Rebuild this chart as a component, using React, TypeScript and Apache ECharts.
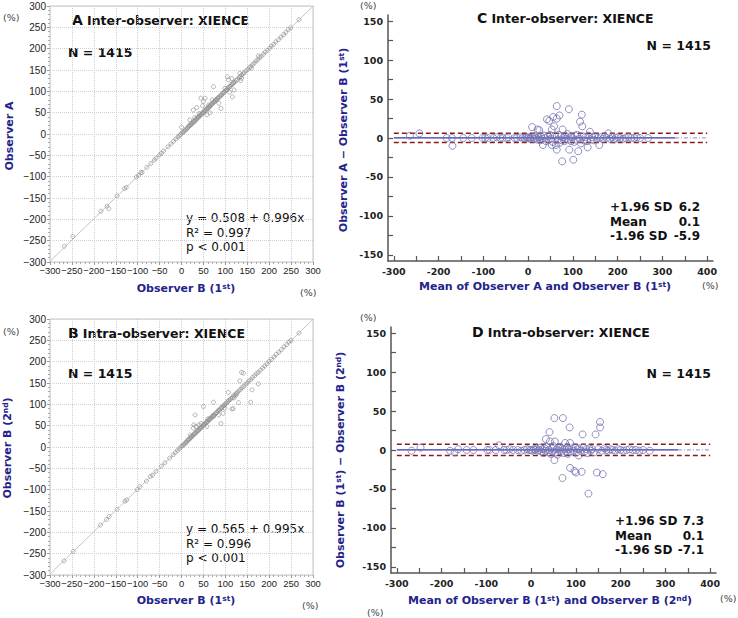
import React, { useEffect, useRef } from 'react';
import * as echarts from 'echarts';

// Panel A: [Observer B (1st), Observer A]
const interObserverPoints: number[][] = [
  [-267, -263], [-248, -240], [-184, -181], [-170, -169], [-166, -175], [-147, -145], [-130, -128], [-126, -125],
  [-103, -101], [-98, -97], [-93, -91], [-90, -90], [-79, -78], [-70, -69], [-62, -61], [-58, -57], [-50, -49],
  [-46, -45], [-41, -40], [-31, -30], [-24, -23], [-18, -17], [-13, -12], [-8, -7], [-5, -4], [-2, -1], [1, 2],
  [3, 4], [6, 6], [8, 9], [10, 10], [12, 13], [14, 14], [16, 17], [17, 19], [19, 20], [21, 21], [22, 25], [24, 24],
  [26, 26], [27, 29], [29, 30], [31, 30], [32, 34], [34, 35], [36, 36], [37, 39], [39, 40], [41, 41], [42, 44],
  [44, 45], [46, 46], [47, 49], [49, 50], [51, 50], [52, 54], [54, 55], [56, 56], [57, 59], [59, 60], [61, 61],
  [62, 64], [64, 64], [66, 66], [67, 69], [69, 70], [71, 71], [72, 74], [74, 75], [76, 76], [77, 79], [79, 80],
  [81, 80], [82, 84], [84, 85], [86, 86], [88, 89], [90, 91], [92, 92], [94, 95], [96, 97], [98, 98], [100, 101],
  [102, 103], [104, 104], [106, 108], [108, 109], [110, 111], [112, 112], [114, 116], [116, 117], [119, 120],
  [122, 122], [125, 126], [128, 128], [131, 132], [134, 134], [137, 138], [140, 141], [143, 143], [147, 148],
  [151, 151], [155, 156], [158, 158], [162, 163], [166, 166], [170, 171], [174, 174], [178, 179], [182, 182],
  [187, 187], [191, 192], [196, 196], [201, 201], [205, 206], [210, 210], [215, 216], [221, 221], [227, 227],
  [233, 233], [238, 238], [244, 245], [249, 249], [268, 268],
  [73, 111], [105, 134], [115, 130], [118, 120], [120, 103], [116, 87], [90, 60], [44, 84], [54, 84], [50, 76],
  [27, 56], [35, 62], [58, 45], [0, 16], [70, 80], [48, 66], [19, 33], [99, 107], [107, 127], [137, 131],
  [160, 154], [175, 183], [135, 125], [85, 72], [62, 68], [40, 48], [30, 38], [110, 98], [133, 142], [65, 50],
];

// Panel B: [Observer B (1st), Observer B (2nd)]
const intraObserverPoints: number[][] = [
  [-268, -267], [-247, -245], [-185, -183], [-171, -170], [-165, -163], [-147, -146], [-129, -127], [-125, -124],
  [-101, -100], [-95, -93], [-80, -80], [-71, -69], [-66, -66], [-58, -57], [-46, -45], [-38, -37], [-27, -26],
  [-19, -18], [-14, -13], [-9, -8], [-5, -4], [-1, 0], [1, 3], [4, 4], [6, 7], [8, 8], [10, 11], [12, 12],
  [14, 15], [15, 17], [17, 18], [19, 19], [21, 22], [22, 24], [24, 25], [26, 26], [28, 29], [29, 31], [31, 32],
  [33, 33], [35, 36], [36, 38], [38, 39], [40, 40], [42, 43], [43, 45], [45, 46], [47, 47], [49, 50], [50, 52],
  [52, 53], [54, 54], [56, 57], [57, 59], [59, 60], [61, 61], [63, 64], [64, 66], [66, 67], [68, 68], [70, 71],
  [71, 73], [73, 74], [75, 75], [77, 78], [79, 80], [81, 81], [83, 84], [85, 86], [87, 87], [89, 90], [91, 92],
  [93, 93], [95, 96], [97, 98], [99, 99], [101, 102], [104, 104], [106, 107], [108, 109], [111, 111], [113, 114],
  [116, 116], [119, 120], [122, 122], [125, 126], [128, 128], [131, 132], [135, 135], [138, 139], [142, 142],
  [146, 147], [150, 150], [154, 155], [158, 158], [162, 163], [167, 167], [171, 172], [175, 175], [180, 180],
  [185, 185], [190, 190], [195, 195], [200, 201], [205, 205], [211, 211], [216, 217], [222, 222], [228, 228],
  [234, 235], [240, 240], [245, 246], [250, 250], [268, 267],
  [137, 175], [141, 173], [133, 155], [175, 148], [161, 134], [158, 105], [107, 128], [130, 104], [73, 105],
  [50, 95], [31, 75], [115, 89], [118, 90], [90, 55], [95, 79], [28, 52], [33, 48], [27, 44], [58, 48], [99, 91],
  [73, 71], [45, 55], [40, 52], [60, 66], [85, 75], [120, 115], [125, 122], [20, 28],
];

// Panel C: [mean of A and B (1st), A - B (1st)]
const interBlandAltman: number[][] = [
  [-264, 3], [-243, 6], [-182, 0], [-170, 0], [-169, -10], [-145, 0], [-126, 0], [-102, 0], [-96, 0], [-90, 0],
  [-78, 0], [-70, 1], [-62, 0], [-57, 0], [-48, 0], [-44, 1], [-30, 0], [-25, 0], [-17, 1], [-12, 0], [-7, 0],
  [-4, 1], [-1, 0], [2, 1], [4, -1], [6, 0], [9, 14], [10, 1], [13, -1], [15, 2], [18, 0], [20, -2], [21, 11],
  [24, 1], [25, 10], [27, -3], [29, 2], [31, -1], [33, -9], [35, 3], [37, 0], [40, -4], [42, 24], [44, 2],
  [46, -2], [47, 22], [49, 4], [51, -1], [53, 11], [53, -9], [55, -5], [56, 27], [58, 15], [60, 3], [62, -9],
  [64, 25], [64, 41], [64, -15], [66, -2], [68, 4], [70, 29], [71, -6], [73, 2], [75, -3], [76, -30], [77, 11],
  [79, 1], [81, -4], [83, 3], [85, -1], [88, 5], [90, -2], [91, 37], [92, -15], [94, 2], [96, -4], [98, 1],
  [101, -28], [103, -5], [105, 3], [107, -2], [110, 4], [112, -17], [114, -1], [116, 21], [118, -7], [120, 30],
  [121, 15], [123, 2], [125, -3], [128, 1], [131, -4], [133, -12], [135, 3], [138, 8], [140, -2], [143, 1],
  [147, -3], [150, 2], [155, 0], [159, -9], [162, 1], [167, -1], [171, 2], [175, 0], [179, 6], [183, -1],
  [187, 1], [192, -2], [196, 0], [201, 1], [206, 0], [212, -1], [218, 0], [224, 1], [230, 0], [237, 0],
  [243, 1], [250, 0], [268, 0],
];

// Panel D: [mean of B (1st) and B (2nd), B (1st) - B (2nd)]
const intraBlandAltman: number[][] = [
  [-267, -1], [-247, 3], [-181, -1], [-171, -3], [-163, 1], [-144, 0], [-129, 0], [-98, 0], [-93, 0], [-79, 0],
  [-72, 6], [-60, 0], [-55, 0], [-48, 1], [-40, 0], [-30, 0], [-22, -1], [-15, 0], [-9, 1], [-4, 0], [0, 0],
  [3, -1], [6, 1], [9, 0], [12, 2], [15, -1], [18, 0], [20, 3], [23, -2], [25, 1], [28, -4], [30, 2], [32, -1],
  [33, 14], [35, 4], [38, -3], [40, 0], [41, 23], [42, 11], [44, -5], [46, 2], [48, -2], [50, 5], [52, 41],
  [52, -13], [53, 11], [55, -3], [57, 1], [59, -6], [61, 3], [63, -1], [65, 4], [67, -2], [69, 2], [70, -36],
  [71, 41], [73, -4], [75, 1], [76, 9], [78, -2], [80, 3], [82, -5], [84, 1], [86, 29], [87, 9], [87, -23],
  [89, -2], [91, 2], [94, -1], [97, -27], [99, 3], [100, -29], [102, -3], [104, 1], [106, -7], [108, 2],
  [110, -1], [113, -28], [115, 20], [117, 3], [120, -2], [123, 1], [126, -4], [128, -56], [130, 2], [133, -1],
  [136, 1], [140, -3], [144, 20], [147, -29], [150, 1], [154, 36], [154, 29], [158, -1], [160, -31], [164, 2],
  [168, 0], [172, -1], [177, 1], [182, 0], [188, -1], [194, 1], [200, 0], [206, -1], [213, 0], [220, 1],
  [227, 0], [234, 0], [242, -1], [250, 0], [265, -1],
];

// Regression [intercept, slope]
const interRegression = [0.508, 0.996];
const intraRegression = [0.565, 0.995];
// Bland-Altman [upper limit, mean, lower limit]
const interLimits = [6.2, 0.1, -5.9];
const intraLimits = [7.3, 0.1, -7.1];

const baXLabels = [-300, -200, -100, 0, 100, 200, 300, 400];
const baXTicks = [-300, -250, -200, -150, -100, -50, 0, 50, 100, 150, 200, 250, 300, 350, 400];
const baYLabels = [-150, -100, -50, 0, 50, 100, 150];
const baYTicks = [-150, -125, -100, -75, -50, -25, 0, 25, 50, 75, 100, 125, 150];

const NAVY = '#23238c';
const BOLD = 'DejaVu Sans';

const scatterAxis = (gridIndex: number, isX: boolean) => ({
  gridIndex,
  type: 'value',
  min: -300,
  max: 300,
  interval: 50,
  axisLine: { show: false, onZero: false },
  axisTick: { show: true, length: 3, lineStyle: { color: '#999' } },
  minorTick: { show: true, splitNumber: 5, length: 2, lineStyle: { color: '#aaa' } },
  splitLine: { show: true, lineStyle: { type: 'dotted', color: '#d0d0d0' } },
  axisLabel: {
    fontFamily: 'Liberation Sans',
    fontSize: isX ? 9.4 : 10,
    color: '#222',
    margin: 4,
    showMinLabel: true,
    showMaxLabel: true,
    hideOverlap: false,
    formatter: (v: number) => (v < 0 ? '\u2212' + Math.abs(v) : String(v)),
  },
});

const baXAxis = (gridIndex: number) => ({
  gridIndex,
  type: 'value',
  min: -313,
  max: 413,
  axisLine: { show: true, onZero: false, lineStyle: { color: '#555', width: 1.5 } },
  axisTick: { show: true, inside: true, length: 5, customValues: baXTicks, lineStyle: { color: '#555', width: 1.2 } },
  axisLabel: { customValues: baXLabels, fontFamily: BOLD, fontWeight: 'bold', fontSize: 9.5, color: '#222', margin: 5, showMinLabel: true },
  splitLine: { show: false },
});

const baYAxis = (gridIndex: number) => ({
  gridIndex,
  type: 'value',
  min: -158,
  max: 158,
  axisLine: { show: true, onZero: false, lineStyle: { color: '#555', width: 1.5 } },
  axisTick: { show: true, inside: true, length: 5, customValues: baYTicks, lineStyle: { color: '#555', width: 1.2 } },
  axisLabel: { customValues: baYLabels, fontFamily: BOLD, fontWeight: 'bold', fontSize: 9.5, color: '#222', margin: 5, showMinLabel: true },
  splitLine: { show: false },
});

const scatterSeries = (idx: number, data: number[][], reg: number[]) => [
  {
    type: 'line',
    xAxisIndex: idx,
    yAxisIndex: idx,
    data: [[-300, reg[0] + reg[1] * -300], [300, reg[0] + reg[1] * 300]],
    symbol: 'none',
    lineStyle: { color: '#c4c4c4', width: 1 },
    silent: true,
    z: 1,
  },
  {
    type: 'scatter',
    xAxisIndex: idx,
    yAxisIndex: idx,
    data,
    symbol: 'circle',
    symbolSize: 4,
    itemStyle: { color: 'rgba(0,0,0,0)', borderColor: '#8c8c8c', borderWidth: 0.8 },
    silent: true,
    z: 2,
  },
];

const baSeries = (idx: number, data: number[][], lim: number[]) => [
  {
    type: 'line', xAxisIndex: idx, yAxisIndex: idx, symbol: 'none', silent: true, z: 1,
    data: [[-300, lim[1]], [328, lim[1]]],
    lineStyle: { color: '#3434a8', width: 1.4 },
  },
  {
    type: 'line', xAxisIndex: idx, yAxisIndex: idx, symbol: 'none', silent: true, z: 1,
    data: [[328, lim[1]], [400, lim[1]]],
    lineStyle: { color: '#8a8ac8', width: 1, type: [4, 2, 1, 2] },
  },
  {
    type: 'line', xAxisIndex: idx, yAxisIndex: idx, symbol: 'none', silent: true, z: 1,
    data: [[-300, lim[0]], [400, lim[0]]],
    lineStyle: { color: '#8b1a1a', width: 1.5, type: [5, 3] },
  },
  {
    type: 'line', xAxisIndex: idx, yAxisIndex: idx, symbol: 'none', silent: true, z: 1,
    data: [[-300, lim[2]], [400, lim[2]]],
    lineStyle: { color: '#8b1a1a', width: 1.5, type: [5, 3] },
  },
  {
    type: 'scatter', xAxisIndex: idx, yAxisIndex: idx, data, symbol: 'circle', symbolSize: 7, silent: true, z: 2,
    itemStyle: { color: 'rgba(0,0,0,0)', borderColor: '#7474b4', borderWidth: 1 },
  },
];

const txt = (x: number, y: number, text: string, opts: any = {}) => ({
  type: 'text',
  x,
  y,
  rotation: opts.rotation || 0,
  silent: true,
  style: {
    text,
    fill: opts.fill || '#111',
    fontFamily: opts.fontFamily || BOLD,
    fontSize: opts.fontSize || 12,
    fontWeight: opts.fontWeight || 'bold',
    align: opts.align || 'left',
    verticalAlign: 'middle',
    rich: opts.rich,
  },
});

const supRich = (size: number, color: string) => ({
  m: { fontFamily: BOLD, fontWeight: 'bold', fontSize: size, fill: color, lineHeight: size + 4, verticalAlign: 'top' },
  s: { fontFamily: BOLD, fontWeight: 'bold', fontSize: size * 0.68, fill: color, lineHeight: size * 0.68 + 1, verticalAlign: 'top' },
});

const titleRich = {
  a: { fontFamily: BOLD, fontWeight: 'bold', fontSize: 14, fill: '#111' },
  t: { fontFamily: BOLD, fontWeight: 'bold', fontSize: 12.5, fill: '#111' },
};

const pct = (x: number, y: number) => txt(x, y, '(%)', { fontWeight: 'normal', fontSize: 9.5, fill: '#444' });

const eqLines = (x: number, y0: number, reg: number[], r2: string, p: string) => [
  txt(x, y0, `y = ${reg[0].toFixed(3)} + ${reg[1].toFixed(3)}x`, { fontWeight: 'normal', fontSize: 12 }),
  txt(x, y0 + 14.5, `R\u00b2 = ${r2}`, { fontWeight: 'normal', fontSize: 12 }),
  txt(x, y0 + 29, `p < ${p}`, { fontWeight: 'normal', fontSize: 12 }),
];

const statLines = (x: number, xr: number, y0: number, lim: number[]) => {
  const labels = ['+1.96 SD', 'Mean', '-1.96 SD'];
  const out: any[] = [];
  labels.forEach((l, i) => {
    out.push(txt(x, y0 + i * 14.5, l, { fontSize: 12 }));
    out.push(txt(xr, y0 + i * 14.5, lim[i].toFixed(1), { fontSize: 12, align: 'right' }));
  });
  return out;
};

export default function App() {
  const ref = useRef<HTMLDivElement>(null);
  useEffect(() => {
    if (!ref.current) return;
    const chart = echarts.init(ref.current, undefined, { renderer: 'svg' });
    const rich11 = supRich(11, NAVY);
    const option: any = {
      animation: false,
      grid: [
        { left: 50, top: 6, width: 263, height: 256, show: true, borderColor: '#c4c4c4', borderWidth: 1 },
        { left: 50, top: 319, width: 263, height: 256, show: true, borderColor: '#c4c4c4', borderWidth: 1 },
        { left: 388, top: 15, width: 325, height: 246 },
        { left: 391, top: 327, width: 325, height: 246 },
      ],
      xAxis: [scatterAxis(0, true), scatterAxis(1, true), baXAxis(2), baXAxis(3)],
      yAxis: [scatterAxis(0, false), scatterAxis(1, false), baYAxis(2), baYAxis(3)],
      series: [
        ...scatterSeries(0, interObserverPoints, interRegression),
        ...scatterSeries(1, intraObserverPoints, intraRegression),
        ...baSeries(2, interBlandAltman, interLimits),
        ...baSeries(3, intraBlandAltman, intraLimits),
      ],
      graphic: [
        // Panel A
        pct(3, 17),
        txt(72, 20, '{a|A} {t|Inter-observer: XIENCE}', { rich: titleRich }),
        txt(68, 52, 'N = 1415', { fontSize: 12.5 }),
        ...eqLines(186, 218, interRegression, '0.997', '0.001'),
        txt(186, 290, '{m|Observer B (1}{s|st}{m|)}', { align: 'center', rich: rich11 }),
        pct(300, 292),
        txt(9, 136, 'Observer A', { rotation: Math.PI / 2, align: 'center', fill: NAVY, fontSize: 11 }),
        // Panel B
        pct(3, 331),
        txt(68, 333, '{a|B} {t|Intra-observer: XIENCE}', { rich: titleRich }),
        txt(68, 373, 'N = 1415', { fontSize: 12.5 }),
        ...eqLines(186, 529, intraRegression, '0.996', '0.001'),
        txt(186, 602, '{m|Observer B (1}{s|st}{m|)}', { align: 'center', rich: rich11 }),
        pct(302, 605),
        txt(9, 448, '{m|Observer B (2}{s|nd}{m|)}', { rotation: Math.PI / 2, align: 'center', rich: rich11 }),
        // Panel C
        pct(360, 5),
        txt(477, 18, '{a|C} {t|Inter-observer: XIENCE}', { rich: titleRich }),
        txt(711, 45, 'N = 1415', { fontSize: 12.5, align: 'right' }),
        ...statLines(610, 700, 207, interLimits),
        txt(545, 288, '{m|Mean of Observer A and Observer B (1}{s|st}{m|)}', { align: 'center', rich: rich11 }),
        pct(702, 285),
        txt(345, 140, '{m|Observer A \u2212 Observer B (1}{s|st}{m|)}', { rotation: Math.PI / 2, align: 'center', rich: rich11 }),
        // Panel D
        pct(360, 317),
        txt(472, 332, '{a|D} {t|Intra-observer: XIENCE}', { rich: titleRich }),
        txt(711, 373, 'N = 1415', { fontSize: 12.5, align: 'right' }),
        ...statLines(615, 704, 521, intraLimits),
        txt(550, 602, '{m|Mean of Observer B (1}{s|st}{m|) and Observer B (2}{s|nd}{m|)}', { align: 'center', rich: rich11 }),
        pct(720, 598),
        pct(367, 612),
        txt(342, 460, '{m|Observer B (1}{s|st}{m|) \u2212 Observer B (2}{s|nd}{m|)}', { rotation: Math.PI / 2, align: 'center', rich: rich11 }),
      ],
    };
    chart.setOption(option);
    return () => chart.dispose();
  }, []);
  return (
    <div
      ref={ref}
      style={{ position: 'fixed', left: 0, top: 0, width: 738, height: 618, background: '#fff' }}
    />
  );
}
